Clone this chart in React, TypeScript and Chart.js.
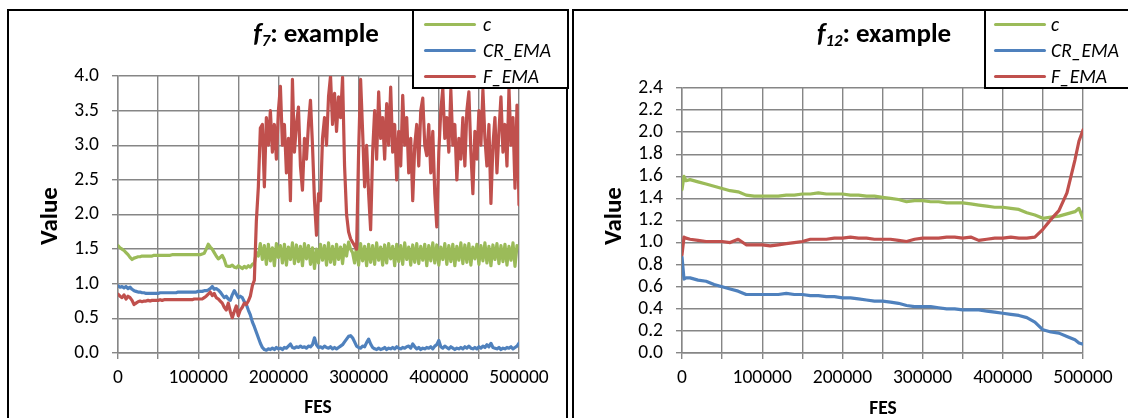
import React, { useEffect, useRef } from 'react';
import { Chart, registerables } from 'chart.js';

Chart.register(...registerables);

// ---------- Data: f7 (left) ----------
const fesLeft: number[] = Array.from({ length: 201 }, (_, i) => i * 2500);

const cLeft: number[] = [
  1.55, 1.52, 1.50, 1.48, 1.45, 1.42, 1.38, 1.35, 1.37,
  1.38, 1.39, 1.39, 1.40, 1.40, 1.40, 1.40, 1.40, 1.40, 1.41,
  1.41, 1.41, 1.41, 1.41, 1.41, 1.41, 1.41, 1.41, 1.42, 1.42,
  1.42, 1.42, 1.42, 1.42, 1.42, 1.42, 1.42, 1.42, 1.42, 1.42,
  1.42, 1.42, 1.42, 1.43, 1.44, 1.50,
  1.57, 1.53, 1.50,
  1.45, 1.40, 1.36, 1.38, 1.41,
  1.35, 1.26, 1.25,
  1.25, 1.27, 1.24, 1.23, 1.26, 1.24, 1.22, 1.25, 1.23, 1.26, 1.24, 1.28, 1.30,
  1.45,
  1.40, 1.58, 1.35, 1.55, 1.28, 1.57, 1.33, 1.52, 1.26,
  1.58, 1.38, 1.55, 1.30, 1.57, 1.27, 1.53, 1.35, 1.59, 1.29,
  1.56, 1.32, 1.54, 1.26, 1.58, 1.36, 1.55, 1.28, 1.52, 1.22,
  1.50, 1.30, 1.57, 1.34, 1.55, 1.27, 1.59, 1.31, 1.54, 1.28,
  1.57, 1.35, 1.53, 1.29, 1.56, 1.40, 1.60, 1.50, 1.45, 1.30,
  1.55, 1.27, 1.58, 1.33, 1.54, 1.26, 1.57, 1.31, 1.55, 1.28,
  1.59, 1.34, 1.53, 1.27, 1.56, 1.30, 1.58, 1.36, 1.54, 1.26,
  1.57, 1.32, 1.55, 1.28, 1.59, 1.35, 1.53, 1.27, 1.56, 1.31,
  1.58, 1.29, 1.54, 1.34, 1.57, 1.26, 1.55, 1.33, 1.59, 1.30,
  1.56, 1.27, 1.53, 1.35, 1.58, 1.28, 1.55, 1.32, 1.57, 1.26,
  1.54, 1.34, 1.59, 1.29, 1.56, 1.31, 1.58, 1.27, 1.53, 1.36,
  1.57, 1.28, 1.55, 1.33, 1.59, 1.30, 1.54, 1.26, 1.56, 1.35,
  1.58, 1.29, 1.55, 1.32, 1.57, 1.27, 1.54, 1.34, 1.59, 1.25,
  1.55,
];

const crLeft: number[] = [
  0.97, 0.95, 0.96, 0.94, 0.96, 0.93, 0.95, 0.92, 0.90,
  0.89, 0.88, 0.88, 0.87, 0.87, 0.86, 0.86, 0.86, 0.86, 0.86,
  0.86, 0.86, 0.87, 0.87, 0.87, 0.87, 0.87, 0.87, 0.87, 0.87,
  0.87, 0.88, 0.88, 0.88, 0.88, 0.88, 0.88, 0.88, 0.88, 0.88,
  0.88, 0.89, 0.89, 0.89, 0.90, 0.90, 0.91,
  0.93, 0.96, 0.92,
  0.93, 0.91, 0.88, 0.84, 0.80,
  0.82, 0.78, 0.76,
  0.84, 0.90, 0.85, 0.80, 0.82, 0.80, 0.74, 0.70, 0.62, 0.55, 0.45, 0.38, 0.30, 0.22, 0.14, 0.08,
  0.05, 0.04, 0.06, 0.05, 0.07, 0.05, 0.08,
  0.06, 0.07, 0.05, 0.08, 0.07, 0.10, 0.13, 0.08, 0.07, 0.09,
  0.08, 0.10, 0.08, 0.09, 0.07, 0.10, 0.09, 0.12, 0.22, 0.12,
  0.08, 0.09, 0.07, 0.10, 0.08, 0.07, 0.09, 0.06, 0.08, 0.06,
  0.08, 0.10, 0.12, 0.16, 0.20, 0.24, 0.25, 0.22, 0.16, 0.10,
  0.08, 0.07, 0.10, 0.09, 0.15, 0.20, 0.13, 0.08, 0.06, 0.05,
  0.07, 0.05, 0.06, 0.08, 0.05, 0.07, 0.06, 0.08, 0.06, 0.09,
  0.07, 0.06, 0.08, 0.07, 0.09, 0.10, 0.07, 0.13, 0.09, 0.06,
  0.08, 0.05, 0.07, 0.06, 0.08, 0.07, 0.09, 0.06, 0.10, 0.12,
  0.18, 0.09, 0.07, 0.10, 0.08, 0.06, 0.09, 0.07, 0.05, 0.07,
  0.06, 0.08, 0.06, 0.09, 0.07, 0.10, 0.07, 0.06, 0.08, 0.06,
  0.09, 0.07, 0.10, 0.08, 0.12, 0.09, 0.14, 0.08, 0.07, 0.06,
  0.08, 0.05, 0.07, 0.06, 0.08, 0.07, 0.09, 0.06, 0.08, 0.10,
  0.14,
];

const fLeft: number[] = [
  0.85, 0.82, 0.80, 0.84, 0.78, 0.82, 0.80, 0.76, 0.70,
  0.72, 0.74, 0.75, 0.74, 0.75, 0.75, 0.76, 0.75, 0.76, 0.76,
  0.76, 0.76, 0.77, 0.76, 0.77, 0.77, 0.77, 0.77, 0.77, 0.77,
  0.77, 0.77, 0.77, 0.77, 0.77, 0.77, 0.77, 0.77, 0.77, 0.78,
  0.78, 0.78, 0.78, 0.78, 0.80, 0.82, 0.85,
  0.88, 0.83, 0.86,
  0.80, 0.78, 0.75, 0.72, 0.66,
  0.62, 0.72, 0.60,
  0.51, 0.60, 0.68, 0.54, 0.62, 0.66, 0.72, 0.70, 0.75, 0.82, 0.97,
  1.05, 1.90, 2.40, 3.25,
  3.3, 2.4, 3.4, 3.0, 3.5, 2.9, 3.3, 2.8,
  3.5, 3.85, 3.0, 3.3, 2.6, 3.1, 2.2, 3.95, 2.9, 3.3,
  3.55, 2.7, 2.35, 3.1, 2.8, 3.3, 3.65, 3.0, 2.2, 1.7,
  2.3, 2.2, 3.1, 3.4, 3.0, 3.7, 4.0, 3.3, 3.75, 3.2,
  3.7, 3.4, 3.98, 2.7, 2.0, 1.75, 1.65, 1.6, 1.55, 1.5,
  2.9, 3.95, 3.2, 2.4, 3.0, 2.3, 1.78, 2.9, 3.5, 2.8,
  3.77, 3.1, 3.4, 2.8, 3.6, 3.0, 3.84, 2.9, 3.3, 2.5,
  3.2, 2.7, 3.72, 3.0, 3.4, 2.6, 3.1, 2.2, 3.0, 3.3,
  2.7, 3.5, 3.68, 3.0, 2.85, 3.3, 2.6, 3.2, 2.3, 1.82,
  2.9, 3.5, 3.82, 3.1, 3.4, 2.9, 3.8, 3.0, 3.3, 2.5,
  3.1, 2.8, 3.4, 2.7, 3.5, 3.77, 2.9, 2.3, 3.2, 2.8,
  3.5, 3.0, 3.8, 3.1, 2.7, 3.3, 2.16, 3.0, 3.4, 2.6,
  3.2, 3.7, 2.9, 3.3, 2.7, 3.82, 3.0, 3.4, 2.38, 3.58,
  2.14,
];

// ---------- Data: f12 (right) ----------
const fesRight: number[] = [
  0, 2500, 5000, 10000, 20000, 30000, 40000, 50000, 60000, 70000,
  80000, 90000, 100000, 110000, 120000, 130000, 140000, 150000, 160000, 170000,
  180000, 190000, 200000, 210000, 220000, 230000, 240000, 250000, 260000, 270000,
  280000, 290000, 300000, 310000, 320000, 330000, 340000, 350000, 360000, 370000,
  380000, 390000, 400000, 410000, 420000, 430000, 440000, 450000, 460000, 470000,
  480000, 490000, 495000, 500000,
];

const cRight: number[] = [
  1.48, 1.60, 1.56, 1.57, 1.55, 1.53, 1.51, 1.49, 1.47, 1.46,
  1.43, 1.42, 1.42, 1.42, 1.42, 1.43, 1.43, 1.44, 1.44, 1.45,
  1.44, 1.44, 1.44, 1.43, 1.43, 1.42, 1.42, 1.41, 1.40, 1.39,
  1.37, 1.38, 1.38, 1.37, 1.37, 1.36, 1.36, 1.36, 1.35, 1.34,
  1.33, 1.32, 1.32, 1.31, 1.30, 1.27, 1.25, 1.22, 1.23, 1.24,
  1.26, 1.28, 1.31, 1.22,
];

const crRight: number[] = [
  0.87, 0.67, 0.68, 0.68, 0.66, 0.65, 0.62, 0.60, 0.58, 0.56,
  0.53, 0.53, 0.53, 0.53, 0.53, 0.54, 0.53, 0.53, 0.52, 0.52,
  0.51, 0.51, 0.50, 0.50, 0.49, 0.48, 0.47, 0.47, 0.46, 0.45,
  0.43, 0.42, 0.42, 0.42, 0.41, 0.40, 0.40, 0.39, 0.39, 0.39,
  0.38, 0.37, 0.36, 0.35, 0.34, 0.32, 0.28, 0.21, 0.19, 0.18,
  0.15, 0.12, 0.09, 0.08,
];

const fRight: number[] = [
  0.89, 1.05, 1.04, 1.03, 1.02, 1.01, 1.01, 1.01, 1.00, 1.03,
  0.98, 0.98, 0.98, 0.97, 0.98, 0.99, 1.00, 1.01, 1.03, 1.03,
  1.03, 1.04, 1.04, 1.05, 1.04, 1.04, 1.03, 1.03, 1.03, 1.02,
  1.01, 1.03, 1.04, 1.04, 1.04, 1.05, 1.05, 1.04, 1.05, 1.02,
  1.03, 1.04, 1.04, 1.05, 1.04, 1.04, 1.05, 1.12, 1.21, 1.29,
  1.45, 1.75, 1.92, 2.02,
];

const seriesNames: string[] = ['c', 'CR_EMA', 'F_EMA'];

// ---------- Styles ----------
const GREEN = '#9BBB59';
const BLUE = '#4F81BD';
const RED = '#C0504D';
const GRID = '#868686';
const FONT = 'Carlito, Lato, "Open Sans", sans-serif';
const COLORS = [GREEN, BLUE, RED];

type Area = { left: number; right: number; top: number; bottom: number };

function LineChart(props: {
  fes: number[];
  c: number[];
  cr: number[];
  f: number[];
  yMax: number;
  yStep: number;
  area: Area;
  width: number;
  height: number;
  left: number;
}) {
  const ref = useRef<HTMLCanvasElement | null>(null);
  const { fes, c, cr, f, yMax, yStep, area, width, height, left } = props;

  useEffect(() => {
    if (!ref.current) return;
    const mk = (vals: number[]) => fes.map((x, i) => ({ x, y: vals[i] }));
    const chart = new Chart(ref.current, {
      type: 'line',
      data: {
        datasets: [
          { label: seriesNames[0], data: mk(c), borderColor: GREEN, backgroundColor: GREEN, order: 3 },
          { label: seriesNames[1], data: mk(cr), borderColor: BLUE, backgroundColor: BLUE, order: 2 },
          { label: seriesNames[2], data: mk(f), borderColor: RED, backgroundColor: RED, order: 1 },
        ],
      },
      options: {
        animation: false,
        responsive: false,
        maintainAspectRatio: false,
        layout: { padding: { left: 0, top: area.top, right: width - area.right, bottom: 0 } },
        plugins: { legend: { display: false }, tooltip: { enabled: false }, title: { display: false } },
        elements: {
          point: { radius: 0, hoverRadius: 0 },
          line: { borderWidth: 3.2, tension: 0, borderCapStyle: 'round', borderJoinStyle: 'round' },
        },
        scales: {
          x: {
            type: 'linear',
            min: 0,
            max: 500000,
            ticks: {
              stepSize: 50000,
              autoSkip: false,
              maxRotation: 0,
              minRotation: 0,
              padding: 7,
              color: '#000',
              font: { family: FONT, size: 19.5 },
              callback: (v: any) => (Number(v) % 100000 === 0 ? String(v) : ''),
            },
            grid: { color: GRID, lineWidth: 1.4, tickLength: 6, drawTicks: true },
            border: { color: GRID, width: 1.4 },
            afterFit: (s: any) => {
              s.height = height - area.bottom;
            },
          },
          y: {
            type: 'linear',
            min: 0,
            max: yMax,
            ticks: {
              stepSize: yStep,
              autoSkip: false,
              padding: 13,
              color: '#000',
              font: { family: FONT, size: 19.5 },
              callback: (v: any) => Number(v).toFixed(1),
            },
            grid: { color: GRID, lineWidth: 1.4, tickLength: 6, drawTicks: true },
            border: { color: GRID, width: 1.4 },
            afterFit: (s: any) => {
              s.width = area.left;
            },
          },
        },
      },
    });
    return () => chart.destroy();
  }, []);

  return (
    <canvas
      ref={ref}
      width={width}
      height={height}
      style={{ position: 'absolute', left, top: 0, width, height }}
    />
  );
}

function Legend(props: { left: number; lineLeft: number; textLeft: number; width: number }) {
  const rows = [15, 41, 67];
  return (
    <div
      style={{
        position: 'absolute',
        left: props.left,
        top: 9,
        width: props.width,
        height: 80,
        border: '2px solid #000',
        boxSizing: 'border-box',
        background: '#fff',
      }}
    >
      {seriesNames.map((n, i) => (
        <React.Fragment key={n}>
          <div
            style={{
              position: 'absolute',
              left: props.lineLeft - 2,
              top: rows[i] - 2 - 1.5,
              width: 52,
              height: 3,
              background: COLORS[i],
              borderRadius: 1.5,
            }}
          />
          <div
            style={{
              position: 'absolute',
              left: props.textLeft - 2,
              top: rows[i] - 2 - 12,
              height: 24,
              lineHeight: '24px',
              fontFamily: FONT,
              fontStyle: 'italic',
              fontSize: 19.5,
              color: '#000',
              whiteSpace: 'nowrap',
            }}
          >
            {n}
          </div>
        </React.Fragment>
      ))}
    </div>
  );
}

function Title(props: { cx: number; sub: string }) {
  return (
    <div
      style={{
        position: 'absolute',
        left: props.cx - 150,
        width: 300,
        top: 33 - 18,
        height: 36,
        lineHeight: '36px',
        textAlign: 'center',
        fontFamily: FONT,
        fontWeight: 'bold',
        fontSize: 27,
        color: '#000',
        whiteSpace: 'nowrap',
      }}
    >
      <i>f</i>
      <sub style={{ fontStyle: 'italic', fontSize: '0.62em', verticalAlign: '-0.25em' }}>{props.sub}</sub>
      : example
    </div>
  );
}

function AxisTitles(props: { vx: number; vy: number; fx: number; fy: number }) {
  return (
    <>
      <div
        style={{
          position: 'absolute',
          left: props.vx - 60,
          top: props.vy - 16,
          width: 120,
          height: 32,
          lineHeight: '32px',
          textAlign: 'center',
          transform: 'rotate(-90deg)',
          fontFamily: FONT,
          fontWeight: 'bold',
          fontSize: 25,
          color: '#000',
        }}
      >
        Value
      </div>
      <div
        style={{
          position: 'absolute',
          left: props.fx - 50,
          top: props.fy - 12,
          width: 100,
          height: 24,
          lineHeight: '24px',
          textAlign: 'center',
          fontFamily: FONT,
          fontWeight: 'bold',
          fontSize: 19.5,
          color: '#000',
        }}
      >
        FES
      </div>
    </>
  );
}

export default function App() {
  return (
    <div
      style={{
        position: 'absolute',
        left: 0,
        top: 0,
        width: 1128,
        height: 418,
        overflow: 'hidden',
        background: '#fff',
      }}
    >
      <LineChart
        fes={fesLeft}
        c={cLeft}
        cr={crLeft}
        f={fLeft}
        yMax={4}
        yStep={0.5}
        area={{ left: 118, right: 519, top: 76, bottom: 353 }}
        width={566}
        height={418}
        left={0}
      />
      <LineChart
        fes={fesRight}
        c={cRight}
        cr={crRight}
        f={fRight}
        yMax={2.4}
        yStep={0.2}
        area={{ left: 116, right: 517, top: 88, bottom: 353 }}
        width={562}
        height={418}
        left={566}
      />
      <div
        style={{
          position: 'absolute',
          left: 7,
          top: 9,
          width: 561,
          height: 430,
          border: '2px solid #000',
          boxSizing: 'border-box',
        }}
      />
      <div
        style={{
          position: 'absolute',
          left: 572,
          top: 9,
          width: 600,
          height: 430,
          border: '2px solid #000',
          boxSizing: 'border-box',
        }}
      />
      <Title cx={316} sub="7" />
      <Title cx={884} sub="12" />
      <AxisTitles vx={49} vy={216} fx={318} fy={406} />
      <AxisTitles vx={613} vy={216} fx={883} fy={407} />
      <Legend left={412} width={157} lineLeft={12} textLeft={71} />
      <Legend left={984} width={200} lineLeft={10} textLeft={67} />
    </div>
  );
}
